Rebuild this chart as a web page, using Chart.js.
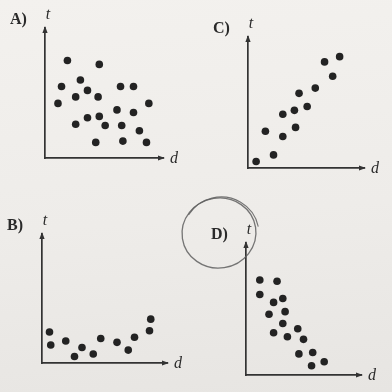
<!DOCTYPE html>
<html lang="en">
<head>
<meta charset="UTF-8">
<title>t against d</title>
<script src="https://cdn.jsdelivr.net/npm/chart.js@4.4.0/dist/chart.umd.min.js"></script>
<style>
  html, body { margin: 0; padding: 0; }
  body {
    width: 392px; height: 392px; overflow: hidden; position: relative;
    background: linear-gradient(175deg, #f3f1ee 0%, #eeece9 55%, #e7e5e2 100%);
  }
  canvas { position: absolute; left: 0; top: 0; }
</style>
</head>
<body>
<canvas id="chartA" width="392" height="392"></canvas>
<canvas id="chartB" width="392" height="392"></canvas>
<canvas id="chartC" width="392" height="392"></canvas>
<canvas id="chartD" width="392" height="392"></canvas>
<script>
// A) no pattern
const dA = [1.9, 4.6, 3.0, 1.4, 3.6, 6.4, 7.5, 2.6, 4.5, 1.1, 6.1, 7.5, 8.8, 3.6, 4.6, 2.6, 5.1, 6.5, 8.0, 4.3, 6.6, 8.6];
const tA = [7.5, 7.2, 6.0, 5.5, 5.2, 5.5, 5.5, 4.7, 4.7, 4.2, 3.7, 3.5, 4.2, 3.1, 3.2, 2.6, 2.5, 2.5, 2.1, 1.2, 1.3, 1.2];

// B) low, rising at the end
const dB = [0.6, 0.7, 1.9, 3.2, 2.6, 4.1, 4.7, 6.0, 7.4, 6.9, 8.7, 8.6];
const tB = [2.4, 1.4, 1.7, 1.2, 0.5, 0.7, 1.9, 1.6, 2.0, 1.0, 3.4, 2.5];

// C) rising
const dC = [7.9, 6.6, 7.3, 5.8, 4.4, 5.1, 4.0, 3.0, 4.1, 1.5, 3.0, 2.2, 0.7];
const tC = [8.5, 8.1, 7.0, 6.1, 5.7, 4.7, 4.4, 4.1, 3.1, 2.8, 2.4, 1.0, 0.5];

// D) falling
const dD = [1.2, 2.7, 1.2, 2.4, 3.2, 2.0, 3.4, 3.2, 2.4, 3.6, 4.5, 5.0, 4.6, 5.8, 5.7, 6.8];
const tD = [7.2, 7.1, 6.1, 5.5, 5.8, 4.6, 4.8, 3.9, 3.2, 2.9, 3.5, 2.7, 1.6, 1.7, 0.7, 1.0];

const ink = '#333333';
const dotInk = '#232323';

// axis arrows, panel letter, axis names and the pencil ring round D
const sketchAxes = {
  id: 'sketchAxes',
  afterDraw(chart, args, opts) {
    const { ctx, chartArea: a } = chart;
    ctx.save();
    ctx.fillStyle = ink;

    ctx.beginPath();
    ctx.moveTo(a.right + 2, a.bottom);
    ctx.lineTo(a.right - 5, a.bottom - 2.6);
    ctx.lineTo(a.right - 5, a.bottom + 2.6);
    ctx.closePath();
    ctx.fill();

    ctx.beginPath();
    ctx.moveTo(a.left, a.top - 2);
    ctx.lineTo(a.left - 2.6, a.top + 5);
    ctx.lineTo(a.left + 2.6, a.top + 5);
    ctx.closePath();
    ctx.fill();

    ctx.fillStyle = '#2a2a2a';
    ctx.textBaseline = 'alphabetic';
    ctx.font = 'bold 16px "Liberation Serif"';
    ctx.textAlign = 'left';
    ctx.fillText(opts.letter, a.left - 35, a.top - 4);

    ctx.font = 'italic 16px "Liberation Serif"';
    ctx.textAlign = 'center';
    ctx.fillText('t', a.left + 3, a.top - 9);
    ctx.textAlign = 'left';
    ctx.fillText('d', a.right + 7, a.bottom + 5);

    if (opts.circled) {
      ctx.strokeStyle = 'rgba(95, 95, 95, 0.85)';
      ctx.lineWidth = 1.3;
      ctx.beginPath();
      ctx.ellipse(219, 233, 37, 35, -0.15, 0, Math.PI * 2);
      ctx.stroke();
      ctx.lineWidth = 1.1;
      ctx.beginPath();
      ctx.ellipse(221, 234, 38, 37, -0.1, -2.5, -0.1);
      ctx.stroke();
    }
    ctx.restore();
  }
};

function points(d, t) {
  return d.map((v, i) => ({ x: v, y: t[i] }));
}

function panel(id, d, t, box, letter, circled) {
  new Chart(document.getElementById(id), {
    type: 'scatter',
    data: {
      datasets: [{
        data: points(d, t),
        pointRadius: 3.8,
        pointHoverRadius: 3.8,
        pointBackgroundColor: dotInk,
        pointBorderWidth: 0,
        clip: false
      }]
    },
    options: {
      responsive: false,
      animation: false,
      events: [],
      layout: {
        padding: { left: box[0], top: box[1], right: 392 - box[2], bottom: 392 - box[3] }
      },
      plugins: {
        legend: { display: false },
        tooltip: { enabled: false },
        sketchAxes: { letter: letter, circled: circled }
      },
      scales: {
        x: {
          type: 'linear', min: 0, max: 10,
          ticks: { display: false },
          grid: { display: false, drawTicks: false },
          border: { display: true, color: ink, width: 1.7 }
        },
        y: {
          type: 'linear', min: 0, max: 10,
          ticks: { display: false },
          grid: { display: false, drawTicks: false },
          border: { display: true, color: ink, width: 1.7 }
        }
      }
    },
    plugins: [sketchAxes]
  });
}

// box = [left, top, right, bottom] of each plot area
panel('chartA', dA, tA, [45, 28, 163, 158], 'A)', false);
panel('chartB', dB, tB, [42, 234, 167, 363], 'B)', false);
panel('chartC', dC, tC, [248, 37, 364, 168], 'C)', false);
panel('chartD', dD, tD, [246, 243, 361, 375], 'D)', true);
</script>
</body>
</html>
